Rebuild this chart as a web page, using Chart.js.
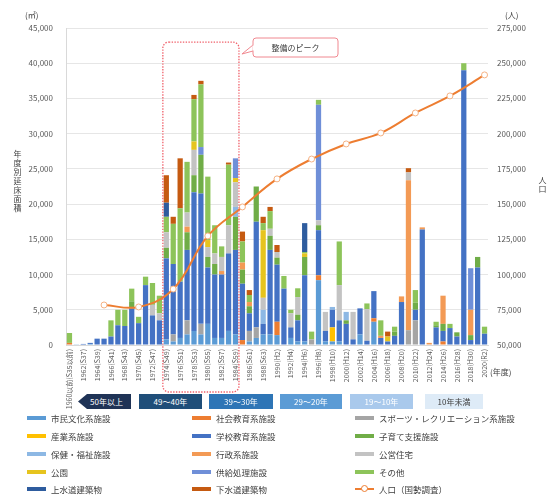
<!DOCTYPE html>
<html><head><meta charset="utf-8">
<script src="https://cdn.jsdelivr.net/npm/chart.js@4.4.1/dist/chart.umd.min.js"></script>
<style>
html,body{margin:0;padding:0;background:#fff;}
#wrap{position:relative;width:557px;height:498px;overflow:hidden;font-family:"Noto Sans CJK JP","Noto Sans",sans-serif;color:#404040;}
canvas{position:absolute;left:0;top:0;}
.t{position:absolute;font-size:8px;color:#404040;white-space:nowrap;}
.vt{position:absolute;writing-mode:vertical-rl;font-size:8px;color:#404040;letter-spacing:1px;}
.band{position:absolute;top:394px;height:15px;line-height:15px;font-size:8px;text-align:center;color:#fff;}
.lg{position:absolute;font-size:8.5px;color:#404040;display:flex;align-items:center;white-space:nowrap;height:12px;}
.lg i{display:inline-block;width:19px;height:4px;margin-right:5px;position:relative;}
.callout{position:absolute;left:253px;top:38px;width:85px;height:19px;line-height:19px;text-align:center;font-size:8px;color:#404040;}
</style></head>
<body><div id="wrap">
<canvas id="c" width="557" height="498"></canvas>
<div class="t" style="left:25px;top:9px;">(㎡)</div>
<div class="t" style="left:505px;top:9px;">(人)</div>
<div class="vt" style="left:12px;top:150px;">年度別延床面積</div>
<div class="vt" style="left:537px;top:176px;">人口</div>
<div class="t" style="left:490px;top:366px;">(年度)</div>
<div class="callout">整備のピーク</div>
<div id="bands"></div>
<div id="legend"></div>
</div>
<script>
const categories = [
'1960以前(S35以前)','1961(S36)','1962(S37)','1963(S38)','1964(S39)','1965(S40)','1966(S41)','1967(S42)','1968(S43)','1969(S44)',
'1970(S45)','1971(S46)','1972(S47)','1973(S48)','1974(S49)','1975(S50)','1976(S51)','1977(S52)','1978(S53)','1979(S54)',
'1980(S55)','1981(S56)','1982(S57)','1983(S58)','1984(S59)','1985(S60)','1986(S61)','1987(S62)','1988(S63)','1989(H1)',
'1990(H2)','1991(H3)','1992(H4)','1993(H5)','1994(H6)','1995(H7)','1996(H8)','1997(H9)','1998(H10)','1999(H11)',
'2000(H12)','2001(H13)','2002(H14)','2003(H15)','2004(H16)','2005(H17)','2006(H18)','2007(H19)','2008(H20)','2009(H21)',
'2010(H22)','2011(H23)','2012(H24)','2013(H25)','2014(H26)','2015(H27)','2016(H28)','2017(H29)','2018(H30)','2019(R1)',
'2020(R2)'];

const seriesNames = ['市民文化系施設','社会教育系施設','スポーツ・レクリエーション系施設','産業系施設','学校教育系施設','子育て支援施設','保健・福祉施設','行政系施設','公営住宅','公園','供給処理施設','その他','上水道建築物','下水道建築物'];
const seriesColors = ['#5B9BD5','#ED7D31','#A5A5A5','#FFC000','#4472C4','#70AD47','#8DB8E4','#F39A55','#C3C3C3','#E6C41E','#6F8FD8','#8DC45A','#2E5C9E','#C55A11'];

const civic = [0,100,0,150,0,0,0,0,0,0, 0,0,0,0,800,500,1000,1500,2000,1500, 3000,1000,1000,2000,1500,0,500,1000,1500,1500, 1400,0,1000,500,500,0,9200,500,500,500, 0,0,1500,0,3300,0,0,0,0,0, 0,0,0,0,0,0,0,0,0,0, 0];
const social = [300,0,0,0,0,0,0,0,0,0, 0,0,0,0,0,0,0,0,0,0, 0,0,0,0,0,700,0,0,0,0, 1900,0,0,0,0,0,700,0,0,0, 0,0,0,0,500,0,0,0,0,0, 0,0,0,0,500,0,0,0,0,0, 0];
const sports = [0,0,0,0,0,0,0,0,0,0, 0,0,0,0,0,1000,0,2000,0,1500, 0,0,0,0,0,0,1500,1500,0,0, 0,0,0,0,0,800,0,0,0,0, 0,0,0,0,0,0,0,0,0,2100, 3500,0,0,0,0,0,0,0,0,0, 0];
const industry = [0,0,0,0,0,0,0,0,0,0, 0,0,0,0,0,0,0,0,0,0, 0,0,0,0,0,0,0,0,0,0, 0,0,0,0,0,0,0,0,2000,0, 0,0,0,0,0,0,0,0,0,0, 0,0,0,0,0,0,0,0,0,0, 0];
const school = [0,0,150,150,900,900,1200,2800,2700,5200, 3100,8500,4200,3500,11500,10000,8000,10000,19700,18500, 8000,9000,9000,11000,12000,8000,2500,15000,1500,12000, 8100,8000,1500,3000,9400,0,6400,1500,2500,3000, 3000,800,3700,600,3850,1000,500,1300,6100,0, 1500,16400,0,2500,1500,2400,1200,39000,700,11000, 1600];
const childcare = [0,0,0,0,0,0,0,0,0,1000, 0,0,0,0,1500,0,0,2500,2400,5500, 1500,1500,0,0,4700,2000,1000,5000,0,2000, 1000,0,0,800,2600,0,700,0,0,0, 500,0,0,0,0,0,0,600,0,0, 1000,0,0,300,1000,0,600,0,700,1500, 0];
const health = [0,0,0,0,0,0,0,0,0,0, 0,0,0,0,0,0,0,0,0,0, 0,0,0,0,1400,0,0,0,2000,0, 0,0,0,0,0,0,0,0,400,0, 1200,0,0,0,0,0,0,0,0,0, 0,0,0,0,0,0,0,0,0,0, 0];
const admin = [0,0,0,0,0,0,0,0,0,0, 0,0,0,0,0,0,0,800,0,0, 0,0,500,0,0,1000,600,0,0,0, 0,0,0,0,0,0,0,0,0,0, 0,0,0,0,0,300,0,0,800,21300, 0,300,300,0,4000,0,0,0,3600,0, 0];
const housing = [0,0,0,0,0,0,0,0,0,0, 0,0,1500,1000,2200,0,0,2000,3600,0, 1400,1500,2000,4000,3500,0,0,0,1700,1000, 800,0,2000,2500,0,0,700,2700,0,5000, 0,3900,0,4500,0,0,0,0,0,1100, 0,0,0,0,0,0,0,0,0,0, 0];
const park = [0,0,0,0,0,0,0,0,0,0, 0,0,0,0,0,0,0,0,1200,0, 1000,0,0,0,600,0,0,0,9600,0, 0,0,0,0,500,0,0,0,0,0, 0,0,0,0,0,0,700,0,0,0, 0,0,0,0,0,0,0,0,0,0, 0];
const supply = [0,0,0,0,0,0,0,0,0,0, 0,0,0,0,0,0,0,0,0,1100, 0,0,0,0,2800,0,0,0,0,0, 0,0,0,0,0,0,16400,0,0,0, 0,0,0,0,0,0,0,0,0,0, 0,0,0,0,0,0,0,0,5900,0, 0];
const other = [1400,0,0,0,0,0,2300,2200,2300,1800, 900,1200,3100,2500,2200,5700,10400,7200,6000,8900, 9000,4000,1500,8600,0,3000,1000,0,1000,2500, 0,1800,500,1250,200,1100,700,0,0,6200, 0,0,0,800,0,2200,0,700,0,0, 1800,0,0,500,0,600,0,1000,0,0, 1000];
const water = [0,0,0,0,0,0,0,0,0,0, 0,0,0,0,2000,0,0,0,0,0, 0,0,0,0,0,0,0,0,0,0, 0,0,0,0,4100,0,0,0,0,0, 0,0,0,0,0,0,0,0,0,0, 0,0,0,0,0,0,0,0,0,0, 0];
const sewer = [0,0,0,0,0,0,0,0,0,0, 0,0,0,0,3900,1000,7100,0,600,500, 0,0,0,300,0,1400,700,0,900,600, 1000,0,0,0,0,0,0,0,0,0, 0,0,0,0,0,0,700,0,0,600, 0,0,0,0,0,0,0,0,0,0, 0];

const popLabels = ['1965(S40)','1970(S45)','1975(S50)','1980(S55)','1985(S60)','1990(H2)','1995(H7)','2000(H12)','2005(H17)','2010(H22)','2015(H27)','2020(R2)'];
const popValues = [78400,77000,89700,127400,148000,167900,182000,192700,200500,214700,226800,241700];

const leftTicks = {min:0, max:45000, step:5000};
const rightTicks = {min:50000, max:275000, step:25000};

const bandTexts = ['50年以上','49～40年','39～30年','29～20年','19～10年','10年未満'];
const popLegend = '人口（国勢調査）';

const seriesData = [civic,social,sports,industry,school,childcare,health,admin,housing,park,supply,other,water,sewer];
const F = '"Noto Sans CJK JP","Noto Sans",sans-serif';

const datasets = seriesData.map((d,k)=>({
  type:'bar', label:seriesNames[k], data:d, backgroundColor:seriesColors[k],
  stack:'s', yAxisID:'y', order:1, categoryPercentage:0.76, barPercentage:1.0, borderWidth:0
}));
datasets.push({
  type:'line', label:popLegend, yAxisID:'y1', order:0,
  data: popLabels.map((l,k)=>({x:l, y:popValues[k]})),
  borderColor:'#ED7D31', borderWidth:2, tension:0.4, spanGaps:true,
  pointRadius:3, pointBackgroundColor:'#fff', pointBorderColor:'#F4B183', pointBorderWidth:1
});

const peakBox = {
  id:'peakBox',
  afterDraw(chart){
    const {ctx, scales:{x,y}, chartArea} = chart;
    const l = (x.getPixelForValue(13)+x.getPixelForValue(14))/2;
    const r = (x.getPixelForValue(24)+x.getPixelForValue(25))/2;
    const t = y.getPixelForValue(43000);
    const b = chartArea.bottom + 47;
    ctx.save();
    ctx.strokeStyle='#F0606A'; ctx.lineWidth=1.3; ctx.setLineDash([1.4,1.4]);
    ctx.beginPath(); ctx.roundRect(l,t,r-l,b-t,6); ctx.stroke();
    ctx.setLineDash([]);
    const cx=253, cy=38, cw=85, ch=19;
    ctx.fillStyle='#fff'; ctx.strokeStyle='#F08890'; ctx.lineWidth=1;
    ctx.beginPath(); ctx.roundRect(cx,cy,cw,ch,3); ctx.fill(); ctx.stroke();
    ctx.beginPath(); ctx.moveTo(cx, cy+7); ctx.lineTo(r+3, cy+16); ctx.lineTo(cx, cy+13); ctx.stroke();
    ctx.fillRect(cx-0.5, cy+7.5, 1.5, 5);
    ctx.restore();
  }
};

new Chart(document.getElementById('c'), {
  data:{labels:categories, datasets},
  options:{
    responsive:false, animation:false, devicePixelRatio:1,
    layout:{padding:{top:28,left:0,right:0,bottom:0}},
    plugins:{legend:{display:false}, tooltip:{enabled:false}},
    scales:{
      x:{stacked:true, grid:{display:false, drawTicks:false}, border:{display:true,color:'#d9d9d9'},
         ticks:{autoSkip:false, maxRotation:90, minRotation:90, padding:4, color:'#595959', font:{size:7,family:F},
                callback:(v,i)=> i%2===0 ? categories[i] : ''},
         afterFit:s=>{s.height=498-345;}},
      y:{stacked:true, min:leftTicks.min, max:leftTicks.max,
         ticks:{stepSize:leftTicks.step, color:'#595959', font:{size:8,family:F}, padding:13, callback:v=>v.toLocaleString('en-US')},
         grid:{color:'#e6e6e6', drawTicks:false}, border:{display:true,color:'#d9d9d9'},
         afterFit:s=>{s.width=66;}},
      y1:{position:'right', min:rightTicks.min, max:rightTicks.max,
         ticks:{stepSize:rightTicks.step, color:'#595959', font:{size:8,family:F}, padding:9, callback:v=>v.toLocaleString('en-US')},
         grid:{display:false, drawTicks:false}, border:{display:false},
         afterFit:s=>{s.width=69;}}
    }
  },
  plugins:[peakBox]
});

// period bands
const bandPos = [[78,131],[139,202],[209,273],[280,342],[350,413],[425,483]];
const bandBg = ['#1F3356','#1F4E79','#2E75B6','#5B9BD5','#A9C9EC','#DEEBF7'];
const bandFg = ['#fff','#fff','#fff','#fff','#fff','#404040'];
const bands = document.getElementById('bands');
bandTexts.forEach((txt,k)=>{
  const d=document.createElement('div'); d.className='band';
  d.style.left=bandPos[k][0]+'px'; d.style.width=(bandPos[k][1]-bandPos[k][0])+'px';
  d.style.background=bandBg[k]; d.style.color=bandFg[k];
  if(k===0){ d.style.clipPath='polygon(9px 0,100% 0,100% 100%,9px 100%,0 50%)'; d.style.paddingLeft='4px'; d.style.boxSizing='border-box'; }
  d.textContent=txt; bands.appendChild(d);
});

// legend
const legend = document.getElementById('legend');
const colX=[27,192,355], rowY=[412,430,448,466,483];
const items = seriesNames.map((n,k)=>({n, c:seriesColors[k]})).concat([{n:popLegend, c:'#ED7D31', line:true}]);
items.forEach((it,k)=>{
  const r=Math.floor(k/3), c=k%3;
  const d=document.createElement('div'); d.className='lg';
  d.style.left=colX[c]+'px'; d.style.top=rowY[r]+'px';
  const sw=document.createElement('i'); sw.style.background=it.c;
  if(it.line){ sw.style.height='2px'; const dot=document.createElement('b');
    dot.style.cssText='position:absolute;left:6px;top:-3px;width:5px;height:5px;border:1px solid #ED7D31;border-radius:50%;background:#fff;'; sw.appendChild(dot);}
  d.appendChild(sw); d.appendChild(document.createTextNode(it.n)); legend.appendChild(d);
});
</script>
</body></html>
